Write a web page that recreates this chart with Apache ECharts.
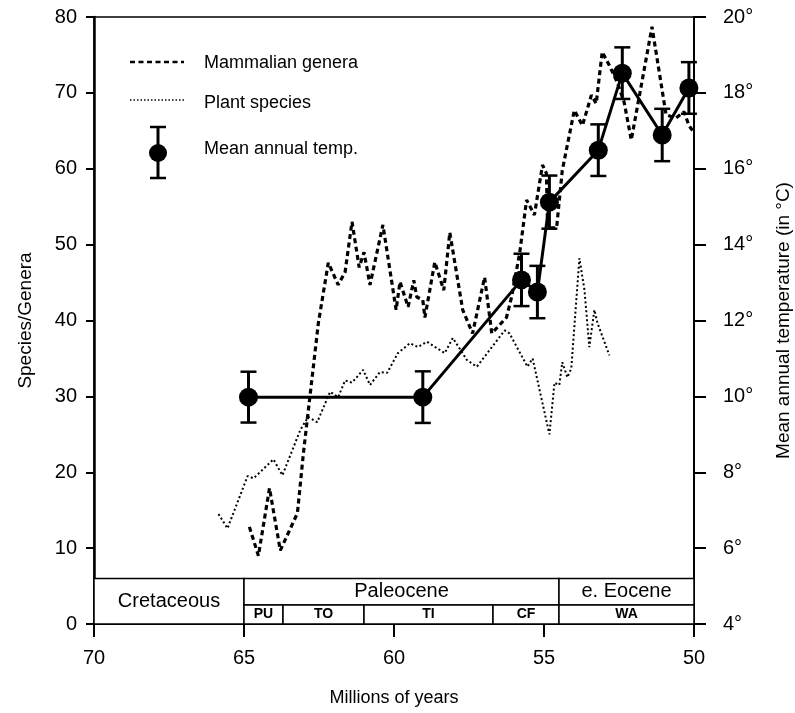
<!DOCTYPE html>
<html>
<head>
<meta charset="utf-8">
<script src="https://cdn.jsdelivr.net/npm/echarts@6/dist/echarts.min.js"></script>
<style>
html,body{margin:0;padding:0;background:#fff;}
#chart{width:795px;height:713px;}
</style>
</head>
<body>
<div id="chart"></div>
<script>
// ---- data ----
const mammalAge = [64.82,64.52,64.15,63.79,63.22,63.02,62.79,62.52,62.19,61.86,61.63,61.40,61.16,61.00,60.80,60.37,59.93,59.80,59.53,59.34,59.24,59.04,58.97,58.64,58.34,58.14,57.71,57.38,56.98,56.74,56.25,56.08,55.81,55.58,55.32,55.05,54.92,54.88,54.58,54.39,53.99,53.72,53.42,53.26,53.06,52.82,52.56,52.33,52.09,51.40,50.93,50.60,50.33,50.17,50.00];
const mammalCount = [12.8,9.0,17.9,9.7,14.6,22.5,30.4,39.7,47.6,44.7,46.4,53.0,47.0,49.0,44.7,52.6,41.4,45.1,41.8,45.3,43.1,42.7,40.4,47.7,44.0,51.6,41.4,38.3,45.7,38.3,40.4,43.1,48.9,55.9,53.9,60.5,59.4,52.2,52.2,59.8,67.7,65.7,69.7,68.6,75.4,73.6,71.4,68.8,63.8,78.7,67.1,66.7,67.5,65.7,64.8];

const plantAge = [65.85,65.55,64.88,64.68,64.02,63.72,63.12,62.86,62.56,62.13,61.86,61.63,61.40,61.03,60.80,60.47,60.23,59.87,59.47,59.20,58.90,58.31,58.04,57.57,57.24,56.31,56.15,55.55,55.38,54.82,54.65,54.49,54.39,54.22,54.09,53.82,53.65,53.49,53.32,53.22,52.82];
const plantCount = [14.5,12.6,19.5,19.2,21.7,19.6,25.6,27.3,26.6,30.6,29.9,32.1,31.8,33.5,31.5,33.2,33.1,35.7,37.0,36.5,37.2,35.7,37.7,34.8,33.9,38.7,38.3,33.9,35.0,25.0,31.8,31.5,34.5,32.5,33.7,48.2,44.0,36.5,41.4,39.7,35.4];

const tempAge = [64.85,59.04,55.75,55.22,54.82,53.19,52.39,51.06,50.17];
const tempMean = [9.98,9.98,13.07,12.75,15.12,16.49,18.52,16.89,18.13];
const tempErr = [0.67,0.68,0.69,0.69,0.7,0.68,0.68,0.69,0.68];

const periodNames = ['Cretaceous','Paleocene','e. Eocene'];
const periodFrom = [70,65,54.5];
const periodTo = [65,54.5,50];
const stageNames = ['PU','TO','TI','CF','WA'];
const stageFrom = [65,63.7,61.0,56.7,54.5];
const stageTo = [63.7,61.0,56.7,54.5,50];

const xTicks = {min:50, max:70, interval:5};
const leftTicks = {min:0, max:80, interval:10};
const rightTicks = {min:4, max:20, interval:2};

// ---- build ----
const FONT = 'Liberation Sans, Arial, Helvetica, sans-serif';
const TOP_ROW = 6.0, MID_ROW = 2.5;

const periodData = periodNames.map((n,i)=>[periodFrom[i], periodTo[i], i===0?0:MID_ROW, TOP_ROW]);
const stageData = stageNames.map((n,i)=>[stageFrom[i], stageTo[i], 0, MID_ROW]);

function boxRenderer(names, fontSize, fontWeight) {
  return function(params, api) {
    const a = api.coord([api.value(0), api.value(3)]);
    const b = api.coord([api.value(1), api.value(2)]);
    const x = Math.min(a[0], b[0]), y = Math.min(a[1], b[1]);
    const w = Math.abs(b[0]-a[0]), h = Math.abs(b[1]-a[1]);
    return {
      type: 'rect',
      shape: {x:x, y:y, width:w, height:h},
      style: {fill:'#fff', stroke:'#000', lineWidth:1.5},
      textContent: {style:{text:names[params.dataIndex], fontSize:fontSize, fontWeight:fontWeight, fontFamily:FONT, fill:'#000'}},
      textConfig: {position:'inside'}
    };
  };
}

const errData = tempAge.map((t,i)=>[t, tempMean[i]-tempErr[i], tempMean[i]+tempErr[i]]);
function errRenderer(params, api) {
  const lo = api.coord([api.value(0), api.value(1)]);
  const hi = api.coord([api.value(0), api.value(2)]);
  const cw = 8;
  const st = {stroke:'#000', lineWidth:3};
  return {
    type:'group',
    children:[
      {type:'line', shape:{x1:lo[0],y1:lo[1],x2:hi[0],y2:hi[1]}, style:st},
      {type:'line', shape:{x1:lo[0]-cw,y1:lo[1],x2:lo[0]+cw,y2:lo[1]}, style:{stroke:'#000',lineWidth:2.5}},
      {type:'line', shape:{x1:hi[0]-cw,y1:hi[1],x2:hi[0]+cw,y2:hi[1]}, style:{stroke:'#000',lineWidth:2.5}}
    ]
  };
}

const chart = echarts.init(document.getElementById('chart'), null, {renderer:'canvas'});
chart.setOption({
  animation: false,
  backgroundColor: '#fff',
  textStyle: {fontFamily: FONT, color:'#000'},
  grid: {left:94, right:101, top:17, bottom:89, show:true, borderColor:'#000', borderWidth:1.5, backgroundColor:'transparent', containLabel:false, outerBoundsMode:'none'},
  xAxis: {
    type:'value', inverse:true, min:xTicks.min, max:xTicks.max, interval:xTicks.interval,
    name:'Millions of years', nameLocation:'middle', nameGap:65,
    nameTextStyle:{fontSize:18, color:'#000', fontFamily:FONT},
    axisLine:{show:true, lineStyle:{color:'#000', width:2}},
    axisTick:{show:true, length:13, lineStyle:{color:'#000', width:2}},
    axisLabel:{fontSize:20, color:'#000', margin:24, fontFamily:FONT},
    splitLine:{show:false}
  },
  yAxis: [
    {
      type:'value', min:leftTicks.min, max:leftTicks.max, interval:leftTicks.interval, position:'left',
      name:'Species/Genera', nameLocation:'middle', nameGap:59, nameRotate:90,
      nameTextStyle:{fontSize:19, color:'#000', fontFamily:FONT},
      axisLine:{show:true, lineStyle:{color:'#000', width:2.5}},
      axisTick:{show:true, length:8, lineStyle:{color:'#000', width:2}},
      axisLabel:{fontSize:20, color:'#000', margin:17, fontFamily:FONT},
      splitLine:{show:false}
    },
    {
      type:'value', min:rightTicks.min, max:rightTicks.max, interval:rightTicks.interval, position:'right',
      name:'Mean annual temperature (in °C)', nameLocation:'middle', nameGap:80, nameRotate:90,
      nameTextStyle:{fontSize:19, color:'#000', fontFamily:FONT},
      axisLine:{show:true, lineStyle:{color:'#000', width:2}},
      axisTick:{show:true, length:12, lineStyle:{color:'#000', width:2}},
      axisLabel:{fontSize:20, color:'#000', margin:29, fontFamily:FONT, formatter:'{value}°'},
      splitLine:{show:false}
    }
  ],
  series: [
    {type:'custom', name:'periods', coordinateSystem:'cartesian2d', xAxisIndex:0, yAxisIndex:0,
     renderItem: boxRenderer(periodNames, 20, 'normal'), data: periodData, z:1, silent:true},
    {type:'custom', name:'stages', coordinateSystem:'cartesian2d', xAxisIndex:0, yAxisIndex:0,
     renderItem: boxRenderer(stageNames, 14, 'bold'), data: stageData, z:1, silent:true},
    {type:'line', name:'Plant species', xAxisIndex:0, yAxisIndex:0,
     data: plantAge.map((a,i)=>[a, plantCount[i]]), showSymbol:false, symbol:'none',
     lineStyle:{color:'#000', width:2, type:[2,2.5]}, z:3},
    {type:'line', name:'Mammalian genera', xAxisIndex:0, yAxisIndex:0,
     data: mammalAge.map((a,i)=>[a, mammalCount[i]]), showSymbol:false, symbol:'none',
     lineStyle:{color:'#000', width:3.2, type:[5,3.5]}, z:4},
    {type:'custom', name:'errors', coordinateSystem:'cartesian2d', xAxisIndex:0, yAxisIndex:1,
     renderItem: errRenderer, data: errData, z:5, silent:true},
    {type:'line', name:'Mean annual temp.', xAxisIndex:0, yAxisIndex:1,
     data: tempAge.map((a,i)=>[a, tempMean[i]]), symbol:'circle', symbolSize:19, showSymbol:true,
     itemStyle:{color:'#000'}, lineStyle:{color:'#000', width:3}, z:6}
  ],
  graphic: [
    {type:'line', shape:{x1:130,y1:62,x2:184,y2:62}, style:{stroke:'#000', lineWidth:2.5, lineDash:[5,3.5]}},
    {type:'text', left:204, top:54, style:{text:'Mammalian genera', fontSize:18, fontFamily:FONT, fill:'#000'}},
    {type:'line', shape:{x1:130,y1:100,x2:184,y2:100}, style:{stroke:'#000', lineWidth:1.5, lineDash:[1.5,2]}},
    {type:'text', left:204, top:94, style:{text:'Plant species', fontSize:18, fontFamily:FONT, fill:'#000'}},
    {type:'line', shape:{x1:158,y1:127,x2:158,y2:178}, style:{stroke:'#000', lineWidth:3}},
    {type:'line', shape:{x1:150,y1:127,x2:166,y2:127}, style:{stroke:'#000', lineWidth:2.5}},
    {type:'line', shape:{x1:150,y1:178,x2:166,y2:178}, style:{stroke:'#000', lineWidth:2.5}},
    {type:'circle', shape:{cx:158, cy:153, r:9}, style:{fill:'#000'}},
    {type:'text', left:204, top:140, style:{text:'Mean annual temp.', fontSize:18, fontFamily:FONT, fill:'#000'}}
  ]
});
</script>
</body>
</html>
